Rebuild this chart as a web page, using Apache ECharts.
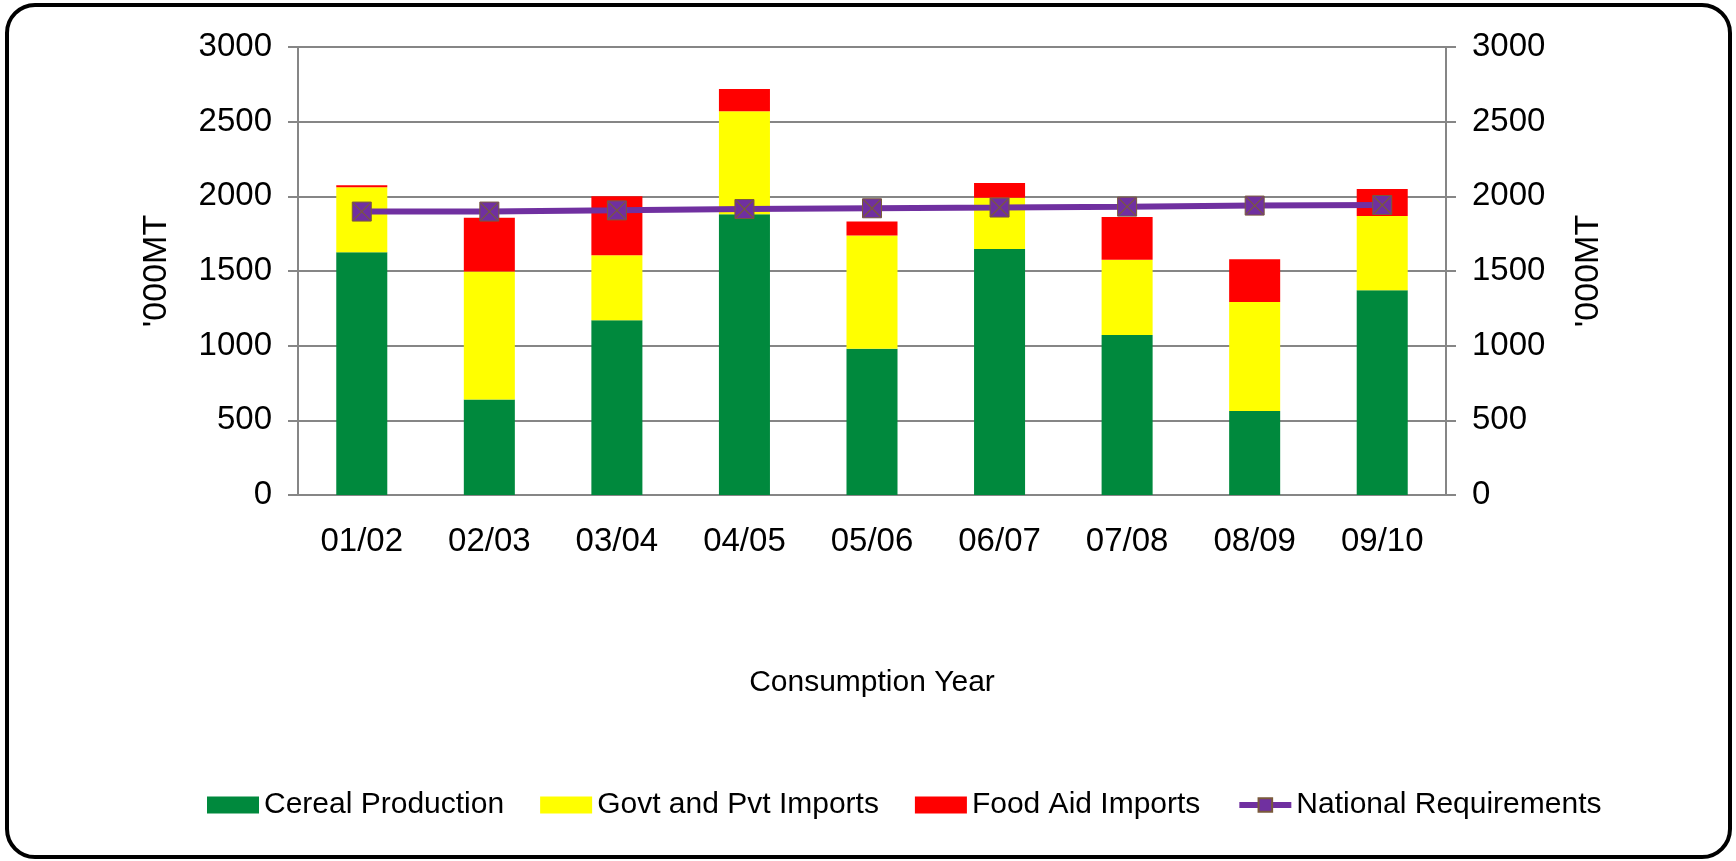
<!DOCTYPE html>
<html>
<head>
<meta charset="utf-8">
<script src="https://cdn.jsdelivr.net/npm/echarts@6/dist/echarts.min.js"></script>
<style>
  body { margin: 0; background: #fff; }
  .frame {
    position: absolute;
    left: 5px;
    top: 3px;
    width: 1719px;
    height: 848px;
    border: 4px solid #000;
    border-radius: 30px;
  }
  #chart {
    position: absolute;
    left: 0;
    top: 0;
    width: 1736px;
    height: 861px;
  }
</style>
</head>
<body>
<div class="frame"></div>
<div id="chart"></div>
<script>
const years = ['01/02', '02/03', '03/04', '04/05', '05/06', '06/07', '07/08', '08/09', '09/10']
const cereal = [1625, 639, 1170, 1880, 980, 1647, 1071, 563, 1371]
const govtPvt = [436, 857, 435, 690, 757, 344, 505, 730, 497]
const foodAid = [13, 361, 395, 149, 94, 98, 286, 285, 181]
const national = [1898, 1898, 1906, 1915, 1920, 1925, 1931, 1938, 1942]
const yTicks = [0, 3000, 500]  // min, max, step

const font = 'Liberation Sans'
const axisGrey = '#868686'
const purple = '#7030A0'

const chart = echarts.init(document.getElementById('chart'))

const yAxisBase = {
  type: 'value',
  min: yTicks[0],
  max: yTicks[1],
  interval: yTicks[2],
  name: '\'000MT',
  nameLocation: 'middle',
  nameRotate: 90,
  nameTextStyle: {fontFamily: font, fontSize: 34, color: '#000'},
  axisLine: {show: true, lineStyle: {color: axisGrey, width: 2}},
  axisTick: {show: true, length: 10, lineStyle: {color: axisGrey, width: 2}},
  axisLabel: {
    fontFamily: font,
    fontSize: 33,
    color: '#000',
    margin: 26,
    formatter: v => String(v)
  }
}

chart.setOption({
  animation: false,
  grid: {left: 298, right: 290, top: 47, bottom: 366},
  legend: {
    left: 202,
    top: 785,
    itemWidth: 52,
    itemHeight: 17,
    itemGap: 36,
    textStyle: {fontFamily: font, fontSize: 30, color: '#000'},
    data: [
      {name: 'Cereal Production', icon: 'rect'},
      {name: 'Govt and Pvt Imports', icon: 'rect'},
      {name: 'Food Aid Imports', icon: 'rect'},
      {name: 'National Requirements', lineStyle: {width: 6}}
    ]
  },
  xAxis: {
    type: 'category',
    data: years,
    name: 'Consumption Year',
    nameLocation: 'middle',
    nameGap: 173,
    nameTextStyle: {fontFamily: font, fontSize: 30, color: '#000'},
    axisLine: {lineStyle: {color: axisGrey, width: 2}},
    axisTick: {length: 10, lineStyle: {color: axisGrey, width: 2}},
    axisLabel: {fontFamily: font, fontSize: 33, color: '#000', margin: 30}
  },
  yAxis: [
    Object.assign({}, yAxisBase, {
      position: 'left',
      nameGap: 124,
      splitLine: {show: true, lineStyle: {color: axisGrey, width: 2}}
    }),
    Object.assign({}, yAxisBase, {
      position: 'right',
      nameGap: 126,
      splitLine: {show: false}
    })
  ],
  series: [
    {
      name: 'Cereal Production',
      type: 'bar',
      stack: 'supply',
      barWidth: '40%',
      itemStyle: {color: '#00893D'},
      data: cereal
    },
    {
      name: 'Govt and Pvt Imports',
      type: 'bar',
      stack: 'supply',
      itemStyle: {color: '#FFFF00'},
      data: govtPvt
    },
    {
      name: 'Food Aid Imports',
      type: 'bar',
      stack: 'supply',
      itemStyle: {color: '#FF0000'},
      data: foodAid
    },
    {
      name: 'National Requirements',
      type: 'line',
      yAxisIndex: 1,
      symbol: 'rect',
      symbolSize: 19,
      lineStyle: {color: purple, width: 6},
      itemStyle: {color: purple, borderColor: '#7a5a3c', borderWidth: 1},
      data: national,
      z: 5
    },
    {
      // X mark drawn over the square markers
      name: 'National Requirements X',
      type: 'line',
      yAxisIndex: 1,
      symbol: 'path://M0,0L10,10M10,0L0,10',
      symbolSize: 17,
      lineStyle: {width: 0, opacity: 0},
      itemStyle: {color: 'transparent', borderColor: '#7a5a3c', borderWidth: 1.2},
      data: national,
      z: 6
    }
  ]
})
</script>
</body>
</html>
